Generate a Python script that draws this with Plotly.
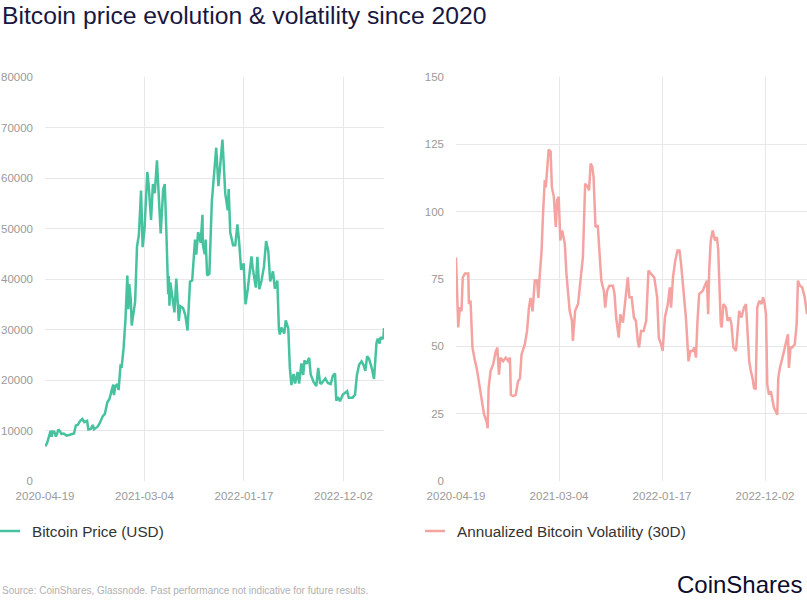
import plotly.graph_objects as go

# ---------------- data ----------------
price_dates = [
    "2020-04-19", "2020-04-22", "2020-04-26", "2020-04-30", "2020-05-03", "2020-05-07", "2020-05-10",
    "2020-05-14", "2020-05-19", "2020-05-24", "2020-05-27", "2020-06-01", "2020-06-07", "2020-06-11",
    "2020-06-18", "2020-06-27", "2020-07-05", "2020-07-12", "2020-07-21", "2020-07-27", "2020-08-02",
    "2020-08-10", "2020-08-17", "2020-08-23", "2020-09-01", "2020-09-05", "2020-09-13", "2020-09-19",
    "2020-09-23", "2020-10-04", "2020-10-11", "2020-10-21", "2020-10-28", "2020-11-05", "2020-11-12",
    "2020-11-18", "2020-11-24", "2020-11-26", "2020-12-01", "2020-12-07", "2020-12-11", "2020-12-17",
    "2020-12-21", "2020-12-27", "2021-01-02", "2021-01-08", "2021-01-11", "2021-01-14", "2021-01-19",
    "2021-01-22", "2021-01-28", "2021-02-02", "2021-02-08", "2021-02-14", "2021-02-21", "2021-02-23",
    "2021-02-26", "2021-03-04", "2021-03-13", "2021-03-17", "2021-03-25", "2021-03-31", "2021-04-06",
    "2021-04-13", "2021-04-18", "2021-04-25", "2021-05-03", "2021-05-08", "2021-05-13", "2021-05-19",
    "2021-05-21", "2021-05-23", "2021-05-26", "2021-06-01", "2021-06-08", "2021-06-14", "2021-06-22",
    "2021-06-27", "2021-07-06", "2021-07-13", "2021-07-20", "2021-07-28", "2021-08-04", "2021-08-13",
    "2021-08-17", "2021-08-23", "2021-08-31", "2021-09-06", "2021-09-07", "2021-09-13", "2021-09-16",
    "2021-09-21", "2021-09-28", "2021-10-06", "2021-10-15", "2021-10-20", "2021-10-27", "2021-11-01",
    "2021-11-09", "2021-11-12", "2021-11-18", "2021-11-26", "2021-11-29", "2021-12-04", "2021-12-13",
    "2021-12-20", "2021-12-27", "2022-01-01", "2022-01-08", "2022-01-16", "2022-01-22", "2022-01-29",
    "2022-02-10", "2022-02-14", "2022-02-24", "2022-03-01", "2022-03-07", "2022-03-14", "2022-03-22",
    "2022-03-29", "2022-04-05", "2022-04-11", "2022-04-20", "2022-04-26", "2022-05-04", "2022-05-09",
    "2022-05-12", "2022-05-17", "2022-05-26", "2022-05-31", "2022-06-08", "2022-06-13", "2022-06-18",
    "2022-06-25", "2022-06-30", "2022-07-08", "2022-07-13", "2022-07-20", "2022-07-26", "2022-07-30",
    "2022-08-06", "2022-08-14", "2022-08-19", "2022-08-28", "2022-09-06", "2022-09-12", "2022-09-18",
    "2022-09-22", "2022-10-05", "2022-10-13", "2022-10-22", "2022-10-29", "2022-11-05", "2022-11-09",
    "2022-11-14", "2022-11-21", "2022-11-30", "2022-12-14", "2022-12-19", "2022-12-31", "2023-01-08",
    "2023-01-14", "2023-01-21", "2023-01-29", "2023-02-05", "2023-02-10", "2023-02-16", "2023-02-22",
    "2023-03-03", "2023-03-10", "2023-03-14", "2023-03-18", "2023-03-22", "2023-03-28", "2023-03-31",
    "2023-04-05", "2023-04-09", "2023-04-11",
]
price_usd = [
    7100, 7100, 7550, 8650, 8900, 9950, 8750,
    9800, 9750, 8800, 9200, 10200, 9750, 9300,
    9400, 9000, 9100, 9300, 9400, 11000, 11100,
    11900, 12300, 11650, 11900, 10200, 10300, 11100,
    10250, 10700, 11400, 12800, 13300, 15600, 16300,
    17800, 19100, 17000, 18800, 19200, 18000, 22800,
    22700, 26300, 32000, 40700, 34000, 39000, 36000,
    30800, 33500, 35500, 46400, 48700, 57500, 48900,
    46300, 49800, 61200, 58900, 51700, 58800, 57000,
    63500, 56200, 49000, 57800, 58800, 49700, 37000,
    40600, 34700, 39300, 36700, 33400, 40100, 31700,
    34600, 34200, 32800, 29800, 39500, 39700, 47800,
    44800, 49300, 47200, 52700, 46900, 44900, 47800,
    40700, 41000, 55400, 61500, 66000, 58400, 61400,
    67600, 64100, 56900, 53600, 57800, 49200, 46700,
    46700, 50800, 47700, 41800, 43100, 35000, 37900,
    44500, 42200, 38300, 44400, 38000, 39600, 42400,
    47500, 45500, 39500, 41500, 38100, 39700, 30100,
    29000, 30400, 29200, 31800, 30200, 22500, 19000,
    21200, 19300, 21600, 19300, 23300, 21000, 23900,
    23200, 24400, 21100, 19600, 18800, 22400, 19400,
    19300, 20300, 19400, 19200, 20800, 21300, 15900,
    16600, 15800, 17100, 17800, 16500, 16500, 17100,
    20900, 23000, 23700, 22900, 21800, 24700, 24200,
    22300, 20200, 24100, 27400, 28200, 27200, 28500,
    28200, 28300, 30300,
]

vol_dates = [
    "2020-04-19", "2020-04-23", "2020-04-26", "2020-05-01", "2020-05-06", "2020-05-10", "2020-05-17",
    "2020-05-27", "2020-05-29", "2020-06-03", "2020-06-09", "2020-06-17", "2020-06-22", "2020-06-27",
    "2020-07-04", "2020-07-10", "2020-07-15", "2020-07-23", "2020-07-26", "2020-07-29", "2020-08-04",
    "2020-08-12", "2020-08-20", "2020-08-25", "2020-08-30", "2020-09-04", "2020-09-12", "2020-09-20",
    "2020-09-28", "2020-10-03", "2020-10-06", "2020-10-13", "2020-10-21", "2020-10-28", "2020-11-03",
    "2020-11-08", "2020-11-18", "2020-11-25", "2020-12-01", "2020-12-06", "2020-12-12", "2020-12-19",
    "2020-12-26", "2020-12-30", "2021-01-03", "2021-01-09", "2021-01-14", "2021-01-19", "2021-01-22",
    "2021-01-27", "2021-01-31", "2021-02-06", "2021-02-10", "2021-02-16", "2021-02-22", "2021-02-26",
    "2021-03-03", "2021-03-08", "2021-03-14", "2021-03-22", "2021-03-27", "2021-04-06", "2021-04-13",
    "2021-04-16", "2021-04-23", "2021-05-02", "2021-05-09", "2021-05-14", "2021-05-17", "2021-05-24",
    "2021-06-01", "2021-06-05", "2021-06-10", "2021-06-15", "2021-06-19", "2021-06-25", "2021-07-02",
    "2021-07-13", "2021-07-21", "2021-07-25", "2021-07-31", "2021-08-07", "2021-08-18", "2021-08-23",
    "2021-08-28", "2021-09-05", "2021-09-10", "2021-09-18", "2021-09-25", "2021-10-03", "2021-10-08",
    "2021-10-15", "2021-10-22", "2021-10-28", "2021-11-03", "2021-11-07", "2021-11-13", "2021-11-21",
    "2021-11-29", "2021-12-06", "2021-12-14", "2021-12-24", "2022-01-02", "2022-01-07", "2022-01-14",
    "2022-01-19", "2022-01-26", "2022-02-04", "2022-02-10", "2022-02-14", "2022-02-20", "2022-02-27",
    "2022-03-06", "2022-03-12", "2022-03-17", "2022-03-25", "2022-04-01", "2022-04-06", "2022-04-09",
    "2022-04-15", "2022-04-22", "2022-04-27", "2022-05-02", "2022-05-07", "2022-05-12", "2022-05-23",
    "2022-05-30", "2022-06-05", "2022-06-09", "2022-06-12", "2022-06-17", "2022-06-23", "2022-06-30",
    "2022-07-06", "2022-07-10", "2022-07-13", "2022-07-18", "2022-07-21", "2022-07-26", "2022-08-03",
    "2022-08-08", "2022-08-15", "2022-08-20", "2022-08-26", "2022-09-03", "2022-09-08", "2022-09-13",
    "2022-09-20", "2022-09-28", "2022-10-04", "2022-10-09", "2022-10-14", "2022-10-19", "2022-10-24",
    "2022-10-29", "2022-11-03", "2022-11-08", "2022-11-14", "2022-11-21", "2022-11-26", "2022-12-01",
    "2022-12-05", "2022-12-09", "2022-12-14", "2022-12-20", "2022-12-25", "2022-12-30", "2023-01-04",
    "2023-01-09", "2023-01-12", "2023-01-17", "2023-01-25", "2023-01-30", "2023-02-05", "2023-02-11",
    "2023-02-14", "2023-02-19", "2023-02-24", "2023-03-04", "2023-03-10", "2023-03-14", "2023-03-20",
    "2023-03-27", "2023-04-04", "2023-04-08", "2023-04-11",
]
vol_pct = [
    83, 70, 57, 64.5, 63, 75.6, 77,
    77, 65.7, 67, 49.5, 44.5, 42, 38.3,
    32, 28.4, 24.6, 22, 19.6, 34.5, 40.8,
    43.3, 48, 49.5, 39.5, 45.8, 44.5, 45.8,
    44.5, 45.8, 32, 31.5, 32, 37, 38,
    47, 50.7, 55.7, 64.5, 68, 63, 74.4,
    74.4, 68, 75.6, 85.5, 100.5, 111.7, 109,
    118, 123, 122.3, 109, 105.5, 94.3, 104.2,
    105.5, 89.3, 93, 88, 77, 63.2, 59.5,
    52, 63.2, 65.7, 73.1, 80.6, 83.1, 110.4,
    109.2, 107.9, 117.9, 116.7, 112.9, 94.3, 94.9,
    74.4, 70.6, 64.4, 70.6, 72.5, 72.5, 69.4,
    60.7, 53.2, 61.9, 58.8, 65.7, 75.6, 68.2,
    68.2, 60.7, 59.5, 52, 49.6, 55.7, 55.7,
    59.5, 78.1, 76.9, 75.6, 68.2, 53.2, 50.7,
    48.3, 60.7, 65.7, 71.9, 64.4, 75.6, 81.8,
    85.6, 85.6, 80.6, 70.6, 60.7, 50.7, 44.5,
    48.3, 48.3, 49.6, 45.8, 59.5, 69.4, 70.6,
    73.1, 74.4, 61.9, 78.1, 89.3, 93, 89.3,
    90.5, 86, 73.1, 58.2, 57, 65.7, 64.4,
    59.5, 60.7, 58.2, 49.6, 48.3, 55.7, 63.2,
    60.7, 64.4, 65.7, 54.5, 44.5, 40.8, 38.3,
    34.6, 34, 64.4, 66.9, 65.7, 68.2, 65.7,
    61.9, 35.8, 32.1, 33.3, 29.6, 27.1, 25.9,
    24.6, 38.3, 42, 45.8, 48.3, 50.7, 54.5,
    42, 49.6, 49.6, 50.7, 58.2, 74.4, 72.5,
    71.9, 68.2, 63.2, 62,
]

tick_dates = ["2020-04-19", "2021-03-04", "2022-01-17", "2022-12-02"]
price_ticks = [0, 10000, 20000, 30000, 40000, 50000, 60000, 70000, 80000]
vol_ticks = [0, 25, 50, 75, 100, 125, 150]

title_text = "Bitcoin price evolution &amp; volatility since 2020"
price_label = "Bitcoin Price (USD)"
vol_label = "Annualized Bitcoin Volatility (30D)"
source_text = "Source: CoinShares, Glassnode. Past performance not indicative for future results."
brand_text = "CoinShares"

# ---------------- styling ----------------
W, H = 807, 600
FONT = "Liberation Sans, Arial, Helvetica, sans-serif"
TEAL = "#47c29f"
PINK = "#f4a3a1"
GRID = "#e7e7ea"
TICK = "#9a9a9a"
NAVY = "#17173f"
LEG_Y = 531


def px(x):
    return x / W


def py(y):
    return 1 - y / H


fig = go.Figure()
fig.add_trace(go.Scatter(x=price_dates, y=price_usd, mode="lines",
                         line=dict(color=TEAL, width=2.5), name=price_label,
                         xaxis="x", yaxis="y", showlegend=False, hoverinfo="x+y"))
fig.add_trace(go.Scatter(x=vol_dates, y=vol_pct, mode="lines",
                         line=dict(color=PINK, width=2.5), name=vol_label,
                         xaxis="x2", yaxis="y2", showlegend=False, hoverinfo="x+y"))

x_common = dict(type="date", range=[price_dates[0], price_dates[-1]],
                tickmode="array", tickvals=tick_dates, ticktext=tick_dates,
                showgrid=True, gridcolor=GRID, gridwidth=1, showline=False,
                zeroline=False, ticks="", ticklabelstandoff=6,
                tickfont=dict(family=FONT, size=11.5, color=TICK),
                automargin=False, fixedrange=True)
y_dom = [py(481), py(77)]
y_common = dict(showgrid=True, gridcolor=GRID, gridwidth=1, showline=False,
                zeroline=False, ticks="", ticklabelstandoff=11,
                tickfont=dict(family=FONT, size=11.5, color=TICK),
                automargin=False, fixedrange=True, domain=y_dom)

fig.update_layout(
    width=W, height=H,
    margin=dict(l=0, r=0, t=0, b=0),
    paper_bgcolor="white", plot_bgcolor="white",
    font=dict(family=FONT),
    xaxis=dict(x_common, domain=[px(45), px(384)], anchor="y"),
    yaxis=dict(y_common, range=[0, 80000], tickmode="array", tickvals=price_ticks,
               ticktext=[str(v) for v in price_ticks], anchor="x"),
    xaxis2=dict(x_common, domain=[px(456), 1.0], anchor="y2"),
    yaxis2=dict(y_common, range=[0, 150], tickmode="array", tickvals=vol_ticks,
                ticktext=[str(v) for v in vol_ticks], anchor="x2"),
)

annotations = [
    dict(text=title_text, x=0, y=py(16), xref="paper", yref="paper",
         xanchor="left", yanchor="middle", showarrow=False,
         font=dict(family=FONT, size=24.7, color=NAVY)),
    dict(text=price_label, x=px(30), y=py(LEG_Y), xref="paper", yref="paper",
         xanchor="left", yanchor="middle", showarrow=False,
         font=dict(family=FONT, size=15.3, color="#333333")),
    dict(text=vol_label, x=px(455), y=py(LEG_Y), xref="paper", yref="paper",
         xanchor="left", yanchor="middle", showarrow=False,
         font=dict(family=FONT, size=15.3, color="#333333")),
    dict(text=source_text, x=0, y=py(590), xref="paper", yref="paper",
         xanchor="left", yanchor="middle", showarrow=False,
         font=dict(family=FONT, size=10, color="#b0b0b0")),
    dict(text=brand_text, x=px(804), y=py(584), xref="paper", yref="paper",
         xanchor="right", yanchor="middle", showarrow=False,
         font=dict(family=FONT, size=24, color="#0c0c2c")),
]
fig.update_layout(annotations=annotations)

shapes = [
    dict(type="line", xref="paper", yref="paper", x0=px(0), x1=px(20),
         y0=py(LEG_Y), y1=py(LEG_Y), line=dict(color=TEAL, width=2.5)),
    dict(type="line", xref="paper", yref="paper", x0=px(425), x1=px(445),
         y0=py(LEG_Y), y1=py(LEG_Y), line=dict(color=PINK, width=2.5)),
]
fig.update_layout(shapes=shapes)

fig.write_html(
    "out.html",
    config={"displayModeBar": False},
    post_script="document.body.style.margin='0px';document.body.style.overflow='hidden';",
)
